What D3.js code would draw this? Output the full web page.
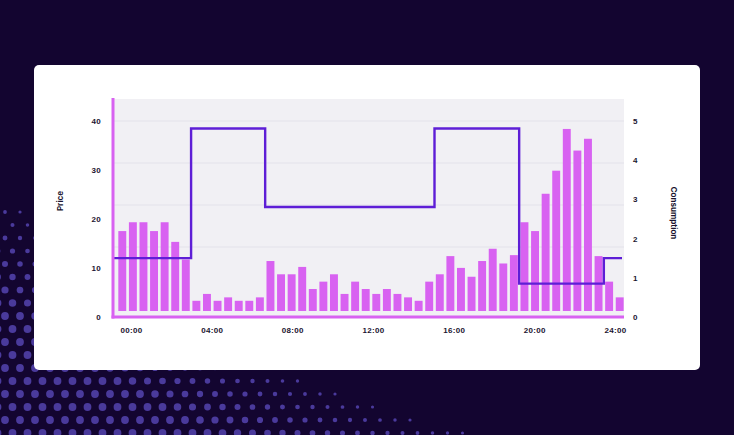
<!DOCTYPE html>
<html>
<head>
<meta charset="utf-8">
<script src="https://cdn.jsdelivr.net/npm/d3@7"></script>
<style>
  html, body { margin: 0; padding: 0; background: #130530; }
  svg { display: block; font-family: Inter, "Open Sans", sans-serif; }
</style>
</head>
<body>
<svg id="chart" width="734" height="435"></svg>
<script>
// half hour slots, one bar each
var slots = d3.range(48).map(function (i) {
    return d3.format("02")(Math.floor(i / 2)) + ":" + (i % 2 ? "30" : "00");
});

// price per slot (left axis)
var price = [
    17.5, 19.3, 19.3, 17.5, 19.3, 15.3, 11.7, 3.3,
    4.7, 3.3, 4.0, 3.3, 3.3, 4.0, 11.4, 8.7,
    8.7, 10.2, 5.7, 7.2, 8.7, 4.7, 7.2, 5.7,
    4.7, 5.7, 4.7, 4.0, 3.3, 7.2, 8.7, 12.4,
    10.0, 8.2, 11.4, 13.9, 10.9, 12.6, 19.3, 17.5,
    25.1, 29.8, 38.3, 33.9, 36.3, 12.4, 7.2, 4.0
];

// consumption step line (right axis): slot where each step starts, and its level
var stepStart = [0, 7, 14, 30, 38, 46];
var stepValue = [1.5, 4.8, 2.8, 4.8, 0.85, 1.5];

var hourTicks = [0, 4, 8, 12, 16, 20, 24];
var priceTicks = [0, 10, 20, 30, 40];
var consumptionTicks = [0, 1, 2, 3, 4, 5];

var W = 734, H = 435;
var card = {x: 34, y: 65, w: 666, h: 305};
var plot = {left: 113, right: 624, top: 99, bottom: 317};
var magenta = "#d862f1";
var violet = "#5e1ed6";

var svg = d3.select("#chart");

// ---- background dots (halftone band at bottom left) ----
var dots = svg.append("g");
var cx0 = 760, cy0 = -700, R = 1170;
for (var row = 0; row * 13 < H + 14; row++) {
    for (var col = -1; col * 15 < W; col++) {
        var px = col * 15 + (row % 2 ? 7.5 : 0) + 5;
        var py = row * 13 + 4;
        var d = Math.sqrt((px - cx0) * (px - cx0) + (py - cy0) * (py - cy0)) - R;
        if (d < 0) continue;
        var r = Math.min(3.9, 1.5 + d * 0.028);
        dots.append("circle")
            .attr("cx", px).attr("cy", py).attr("r", r)
            .attr("fill", "#4a3a9c");
    }
}

// ---- card ----
svg.append("rect")
    .attr("x", card.x).attr("y", card.y)
    .attr("width", card.w).attr("height", card.h)
    .attr("rx", 5).attr("fill", "#ffffff");

// ---- scales ----
var x = d3.scaleBand()
    .domain(slots)
    .range([plot.left + 4, plot.right + 1])
    .paddingInner(0.25)
    .paddingOuter(0.125);
var xHour = d3.scaleLinear().domain([0, 24]).range([131, 615]);
var yPrice = d3.scaleLinear().domain([0, 44.4]).range([plot.bottom, plot.top]);
var yCons = d3.scaleLinear().domain([0, 5.55]).range([plot.bottom, plot.top]);
var grid = d3.scaleLinear().domain([0, 5]).range([331, 121]);

// plot background + grid
svg.append("rect")
    .attr("x", plot.left).attr("y", plot.top)
    .attr("width", plot.right - plot.left).attr("height", plot.bottom - plot.top)
    .attr("fill", "#f1f0f4");

svg.append("g").selectAll("line")
    .data([2, 3, 4, 5])
    .join("line")
    .attr("x1", plot.left).attr("x2", plot.right)
    .attr("y1", function (d) { return grid(d); })
    .attr("y2", function (d) { return grid(d); })
    .attr("stroke", "#e3e2ea").attr("stroke-width", 1);

// ---- bars ----
var base = yPrice(0) - 6;
svg.append("g").selectAll("rect")
    .data(price)
    .join("rect")
    .attr("x", function (d, i) { return x(slots[i]); })
    .attr("width", x.bandwidth())
    .attr("y", function (d) { return yPrice(d); })
    .attr("height", function (d) { return base - yPrice(d); })
    .attr("fill", magenta);

// ---- consumption step line ----
var half = x.step() * x.paddingInner() / 2;
var pts = stepStart.map(function (s, k) {
    var px = k === 0 ? plot.left : x(slots[s]) - half;
    return [px, yCons(stepValue[k])];
});
pts.push([plot.right - 2, yCons(stepValue[stepValue.length - 1])]);

svg.append("path")
    .attr("d", d3.line().curve(d3.curveStepAfter)(pts))
    .attr("fill", "none")
    .attr("stroke", violet)
    .attr("stroke-width", 2.4);

// ---- axis lines ----
svg.append("line")
    .attr("x1", plot.left).attr("x2", plot.left)
    .attr("y1", plot.top - 1).attr("y2", plot.bottom + 1.5)
    .attr("stroke", magenta).attr("stroke-width", 3);
svg.append("line")
    .attr("x1", plot.left - 1.5).attr("x2", plot.right)
    .attr("y1", plot.bottom).attr("y2", plot.bottom)
    .attr("stroke", magenta).attr("stroke-width", 3);

// ---- axes ----
function style(g) {
    g.select(".domain").remove();
    g.selectAll("text")
        .attr("fill", "#1b1530")
        .attr("font-size", 8)
        .attr("font-weight", 700)
        .attr("letter-spacing", 0.3);
}

svg.append("g")
    .attr("transform", "translate(" + plot.left + ",0)")
    .call(d3.axisLeft(yPrice).tickValues(priceTicks).tickSize(0).tickPadding(12))
    .call(style);

svg.append("g")
    .attr("transform", "translate(" + plot.right + ",0)")
    .call(d3.axisRight(yCons).tickValues(consumptionTicks).tickSize(0).tickPadding(9)
        .tickFormat(d3.format("d")))
    .call(style);

svg.append("g")
    .attr("transform", "translate(0," + plot.bottom + ")")
    .call(d3.axisBottom(xHour).tickValues(hourTicks).tickSize(0).tickPadding(10)
        .tickFormat(function (h) { return d3.format("02")(h) + ":00"; }))
    .call(style);

// axis titles
svg.append("text")
    .attr("transform", "translate(63,201) rotate(-90)")
    .attr("text-anchor", "middle")
    .attr("font-size", 8).attr("font-weight", 700)
    .attr("fill", "#1b1530")
    .text("Price");

svg.append("text")
    .attr("transform", "translate(671,213) rotate(90)")
    .attr("text-anchor", "middle")
    .attr("font-size", 8).attr("font-weight", 700)
    .attr("fill", "#1b1530")
    .text("Consumption");
</script>
</body>
</html>
